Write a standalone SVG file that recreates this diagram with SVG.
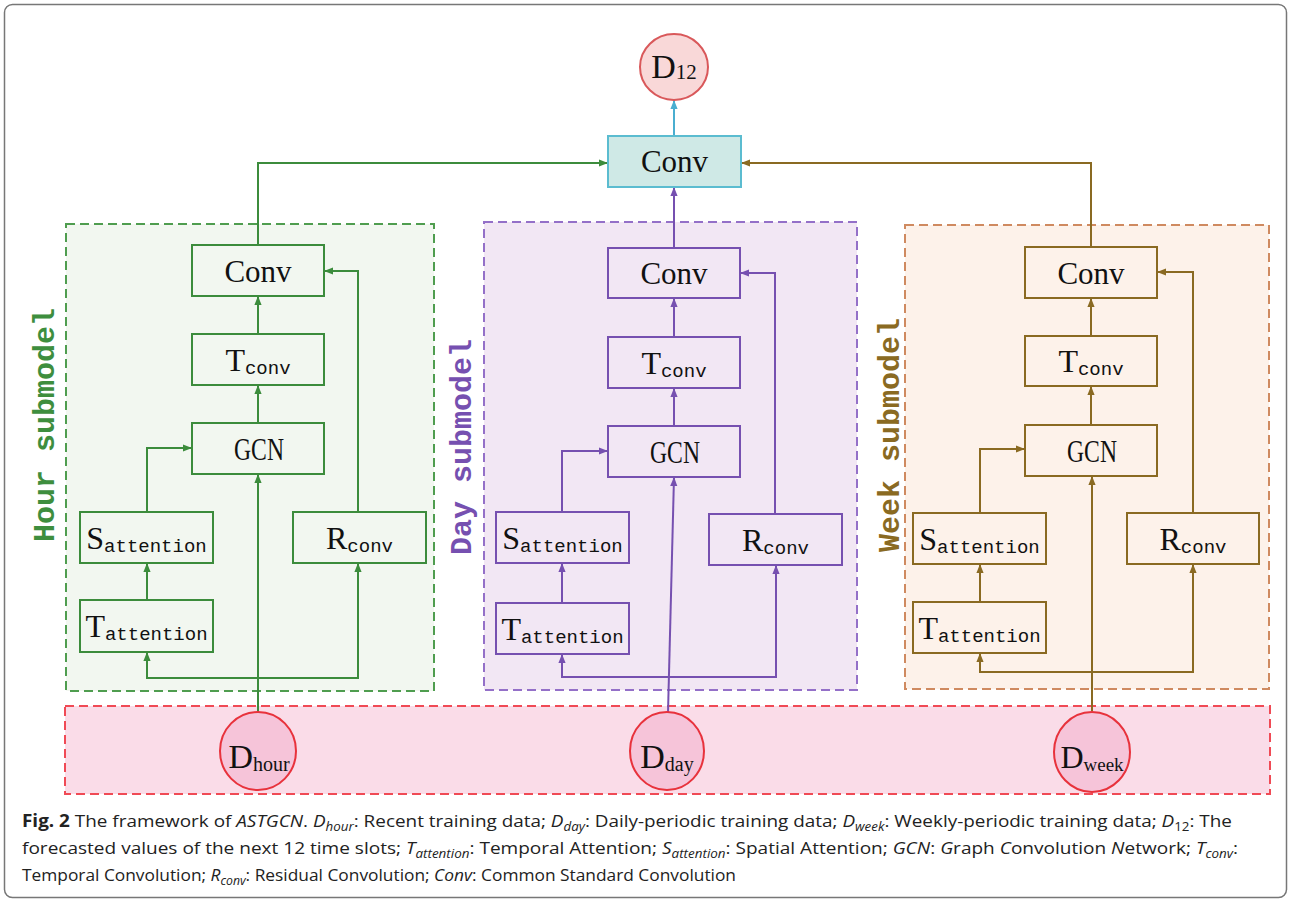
<svg xmlns="http://www.w3.org/2000/svg" width="1291" height="902" viewBox="0 0 1291 902">
<style>
.serif{font-family:"Liberation Serif","Times New Roman",serif;fill:#111}
.mono{font-family:"Liberation Mono","Courier New",monospace;fill:#111}
.lab{font-family:"Liberation Mono","Courier New",monospace;font-size:30px;font-weight:bold}
.cap{font-family:"Open Sans","Noto Sans","Liberation Sans",sans-serif;font-size:17px;fill:#222}
.g{stroke:#3c8c3c}
.p{stroke:#7650b0}
.b{stroke:#8a6a22}
.conn path{fill:none;stroke-width:2}
.node rect{stroke-width:2}
</style>
<defs>
<marker id="ag" viewBox="0 0 10 10" refX="10" refY="5" markerWidth="9" markerHeight="9" markerUnits="userSpaceOnUse" orient="auto"><path d="M0,1 L10,5 L0,9 z" fill="#3c8c3c"/></marker>
<marker id="ap" viewBox="0 0 10 10" refX="10" refY="5" markerWidth="9" markerHeight="9" markerUnits="userSpaceOnUse" orient="auto"><path d="M0,1 L10,5 L0,9 z" fill="#7650b0"/></marker>
<marker id="ab" viewBox="0 0 10 10" refX="10" refY="5" markerWidth="9" markerHeight="9" markerUnits="userSpaceOnUse" orient="auto"><path d="M0,1 L10,5 L0,9 z" fill="#8a6a22"/></marker>
<marker id="at" viewBox="0 0 10 10" refX="10" refY="5" markerWidth="9" markerHeight="9" markerUnits="userSpaceOnUse" orient="auto"><path d="M0,1 L10,5 L0,9 z" fill="#4aaed0"/></marker>
</defs>
<rect x="0" y="0" width="1291" height="902" fill="#fff"/>
<rect x="4.5" y="4.5" width="1282" height="893" rx="8" fill="#fff" stroke="#777" stroke-width="1.5"/>

<!-- containers -->
<g id="hour-submodel">
<rect x="66" y="224" width="368" height="467" fill="#f2f7f0" stroke="#4f9d4f" stroke-width="2" stroke-dasharray="9,5"/>
<text class="lab" transform="translate(54,425) rotate(-90)" text-anchor="middle" fill="#3e8e3e">Hour submodel</text>
</g>
<g id="day-submodel">
<rect x="484" y="222" width="373" height="468" fill="#f2e7f4" stroke="#9470c8" stroke-width="2" stroke-dasharray="9,5"/>
<text class="lab" transform="translate(471,447) rotate(-90)" text-anchor="middle" fill="#7650b0">Day submodel</text>
</g>
<g id="week-submodel">
<rect x="905" y="225" width="364" height="464" fill="#fdf2ea" stroke="#cf8a60" stroke-width="2" stroke-dasharray="9,5"/>
<text class="lab" transform="translate(899,435) rotate(-90)" text-anchor="middle" fill="#8a6a22">Week submodel</text>
</g>
<g id="input-band">
<rect x="65" y="706" width="1205" height="88" fill="#fadce8" stroke="#f04a55" stroke-width="2" stroke-dasharray="9,5"/>
</g>

<!-- connectors -->
<g id="connectors" class="conn">
<path d="M674,136 V100" stroke="#4aaed0" marker-end="url(#at)"/>
<!-- hour -->
<path class="g" d="M258,713 V474" marker-end="url(#ag)"/>
<path class="g" d="M258,678 H147 V652" marker-end="url(#ag)"/>
<path class="g" d="M258,678 H358 V563" marker-end="url(#ag)"/>
<path class="g" d="M147,600 V563" marker-end="url(#ag)"/>
<path class="g" d="M147,512 V448 H192" marker-end="url(#ag)"/>
<path class="g" d="M358,512 V271 H324" marker-end="url(#ag)"/>
<path class="g" d="M258,423 V385" marker-end="url(#ag)"/>
<path class="g" d="M258,334 V296" marker-end="url(#ag)"/>
<path class="g" d="M258,245 V163 H608" marker-end="url(#ag)"/>
<!-- day -->
<path class="p" d="M668,713 L674,477" marker-end="url(#ap)"/>
<path class="p" d="M670,677 H562 V654" marker-end="url(#ap)"/>
<path class="p" d="M670,677 H776 V565" marker-end="url(#ap)"/>
<path class="p" d="M562,603 V563" marker-end="url(#ap)"/>
<path class="p" d="M562,512 V451 H608" marker-end="url(#ap)"/>
<path class="p" d="M775,514 V273 H740" marker-end="url(#ap)"/>
<path class="p" d="M674,426 V388" marker-end="url(#ap)"/>
<path class="p" d="M674,337 V298" marker-end="url(#ap)"/>
<path class="p" d="M674,248 V187" marker-end="url(#ap)"/>
<!-- week -->
<path class="b" d="M1092,711 V476" marker-end="url(#ab)"/>
<path class="b" d="M1092,672 H980 V653" marker-end="url(#ab)"/>
<path class="b" d="M1092,672 H1193 V564" marker-end="url(#ab)"/>
<path class="b" d="M980,602 V564" marker-end="url(#ab)"/>
<path class="b" d="M980,513 V449 H1025" marker-end="url(#ab)"/>
<path class="b" d="M1193,513 V272 H1157" marker-end="url(#ab)"/>
<path class="b" d="M1091,425 V386" marker-end="url(#ab)"/>
<path class="b" d="M1091,336 V298" marker-end="url(#ab)"/>
<path class="b" d="M1091,247 V163 H741" marker-end="url(#ab)"/>
</g>

<!-- output nodes -->
<g id="d12" class="node">
<ellipse cx="674" cy="67" rx="34" ry="33" fill="#f9d8d8" stroke="#d9585a" stroke-width="2"/>
<text class="serif" x="674" y="78" text-anchor="middle"><tspan font-size="34">D</tspan><tspan font-size="21" dy="1">12</tspan></text>
</g>
<g id="conv-top" class="node">
<rect x="608" y="136" width="133" height="51" fill="#cfe9e6" stroke="#5bbcd0" stroke-width="2.5"/>
<text class="serif" x="674.5" y="172" font-size="31" text-anchor="middle">Conv</text>
</g>

<!-- hour nodes -->
<g id="hour-conv" class="node"><rect class="g" x="192" y="245" width="132" height="51" fill="#f2f7f0"/><text class="serif" x="258" y="282" font-size="31" text-anchor="middle">Conv</text></g>
<g id="hour-tconv" class="node"><rect class="g" x="192" y="334" width="132" height="51" fill="#f2f7f0"/><text x="258" y="371" text-anchor="middle"><tspan class="serif" font-size="32">T</tspan><tspan class="mono" font-size="19" dy="3">conv</tspan></text></g>
<g id="hour-gcn" class="node"><rect class="g" x="192" y="423" width="132" height="51" fill="#f2f7f0"/><text class="serif" x="234" y="460" font-size="31" textLength="50" lengthAdjust="spacingAndGlyphs">GCN</text></g>
<g id="hour-satt" class="node"><rect class="g" x="80" y="512" width="133" height="51" fill="#f2f7f0"/><text x="146.5" y="549" text-anchor="middle"><tspan class="serif" font-size="32">S</tspan><tspan class="mono" font-size="19" dy="3">attention</tspan></text></g>
<g id="hour-rconv" class="node"><rect class="g" x="293" y="512" width="133" height="51" fill="#f2f7f0"/><text x="359.5" y="549" text-anchor="middle"><tspan class="serif" font-size="32">R</tspan><tspan class="mono" font-size="19" dy="3">conv</tspan></text></g>
<g id="hour-tatt" class="node"><rect class="g" x="80" y="600" width="133" height="52" fill="#f2f7f0"/><text x="146.5" y="637" text-anchor="middle"><tspan class="serif" font-size="32">T</tspan><tspan class="mono" font-size="19" dy="3">attention</tspan></text></g>

<!-- day nodes -->
<g id="day-conv" class="node"><rect class="p" x="608" y="248" width="132" height="50" fill="#f2e7f4"/><text class="serif" x="674" y="284" font-size="31" text-anchor="middle">Conv</text></g>
<g id="day-tconv" class="node"><rect class="p" x="608" y="337" width="132" height="51" fill="#f2e7f4"/><text x="674" y="374" text-anchor="middle"><tspan class="serif" font-size="32">T</tspan><tspan class="mono" font-size="19" dy="3">conv</tspan></text></g>
<g id="day-gcn" class="node"><rect class="p" x="608" y="426" width="132" height="51" fill="#f2e7f4"/><text class="serif" x="650" y="463" font-size="31" textLength="50" lengthAdjust="spacingAndGlyphs">GCN</text></g>
<g id="day-satt" class="node"><rect class="p" x="496" y="512" width="133" height="51" fill="#f2e7f4"/><text x="562.5" y="549" text-anchor="middle"><tspan class="serif" font-size="32">S</tspan><tspan class="mono" font-size="19" dy="3">attention</tspan></text></g>
<g id="day-rconv" class="node"><rect class="p" x="709" y="514" width="133" height="51" fill="#f2e7f4"/><text x="775.5" y="551" text-anchor="middle"><tspan class="serif" font-size="32">R</tspan><tspan class="mono" font-size="19" dy="3">conv</tspan></text></g>
<g id="day-tatt" class="node"><rect class="p" x="496" y="603" width="133" height="51" fill="#f2e7f4"/><text x="562.5" y="640" text-anchor="middle"><tspan class="serif" font-size="32">T</tspan><tspan class="mono" font-size="19" dy="3">attention</tspan></text></g>

<!-- week nodes -->
<g id="week-conv" class="node"><rect class="b" x="1025" y="247" width="132" height="51" fill="#fdf2ea"/><text class="serif" x="1091" y="284" font-size="31" text-anchor="middle">Conv</text></g>
<g id="week-tconv" class="node"><rect class="b" x="1025" y="336" width="132" height="50" fill="#fdf2ea"/><text x="1091" y="372" text-anchor="middle"><tspan class="serif" font-size="32">T</tspan><tspan class="mono" font-size="19" dy="3">conv</tspan></text></g>
<g id="week-gcn" class="node"><rect class="b" x="1025" y="425" width="132" height="51" fill="#fdf2ea"/><text class="serif" x="1067" y="462" font-size="31" textLength="50" lengthAdjust="spacingAndGlyphs">GCN</text></g>
<g id="week-satt" class="node"><rect class="b" x="913" y="513" width="133" height="51" fill="#fdf2ea"/><text x="979.5" y="550" text-anchor="middle"><tspan class="serif" font-size="32">S</tspan><tspan class="mono" font-size="19" dy="3">attention</tspan></text></g>
<g id="week-rconv" class="node"><rect class="b" x="1127" y="513" width="132" height="51" fill="#fdf2ea"/><text x="1193" y="550" text-anchor="middle"><tspan class="serif" font-size="32">R</tspan><tspan class="mono" font-size="19" dy="3">conv</tspan></text></g>
<g id="week-tatt" class="node"><rect class="b" x="913" y="602" width="133" height="51" fill="#fdf2ea"/><text x="979.5" y="639" text-anchor="middle"><tspan class="serif" font-size="32">T</tspan><tspan class="mono" font-size="19" dy="3">attention</tspan></text></g>

<!-- input nodes -->
<g id="d-hour" class="node">
<ellipse cx="258" cy="751" rx="38" ry="39" fill="#f6c4d9" stroke="#e8323c" stroke-width="2"/>
<text class="serif" x="259" y="768" text-anchor="middle"><tspan font-size="34">D</tspan><tspan font-size="20" dy="3">hour</tspan></text>
</g>
<g id="d-day" class="node">
<ellipse cx="667" cy="751" rx="37" ry="39" fill="#f6c4d9" stroke="#e8323c" stroke-width="2"/>
<text class="serif" x="667" y="768" text-anchor="middle"><tspan font-size="34">D</tspan><tspan font-size="20" dy="3">day</tspan></text>
</g>
<g id="d-week" class="node">
<ellipse cx="1092" cy="752" rx="38" ry="40" fill="#f6c4d9" stroke="#e8323c" stroke-width="2"/>
<text class="serif" x="1092" y="768" text-anchor="middle"><tspan font-size="32">D</tspan><tspan font-size="19" dy="3">week</tspan></text>
</g>

<!-- caption -->
<g id="caption">
<text class="cap" x="22" y="827" textLength="1210" lengthAdjust="spacingAndGlyphs"><tspan font-weight="bold">Fig. 2</tspan> The framework of <tspan font-style="italic">ASTGCN</tspan>. <tspan font-style="italic">D</tspan><tspan font-style="italic" font-size="12" dy="4">hour</tspan><tspan dy="-4">: Recent training data; </tspan><tspan font-style="italic">D</tspan><tspan font-style="italic" font-size="12" dy="4">day</tspan><tspan dy="-4">: Daily-periodic training data; </tspan><tspan font-style="italic">D</tspan><tspan font-style="italic" font-size="12" dy="4">week</tspan><tspan dy="-4">: Weekly-periodic training data; </tspan><tspan font-style="italic">D</tspan><tspan font-size="12" dy="4">12</tspan><tspan dy="-4">: The</tspan></text>
<text class="cap" x="22" y="854" textLength="1216" lengthAdjust="spacingAndGlyphs">forecasted values of the next 12 time slots; <tspan font-style="italic">T</tspan><tspan font-style="italic" font-size="12" dy="4">attention</tspan><tspan dy="-4">: Temporal Attention; </tspan><tspan font-style="italic">S</tspan><tspan font-style="italic" font-size="12" dy="4">attention</tspan><tspan dy="-4">: Spatial Attention; </tspan><tspan font-style="italic">GCN</tspan>: <tspan font-style="italic">G</tspan>raph <tspan font-style="italic">C</tspan>onvolution <tspan font-style="italic">N</tspan>etwork; <tspan font-style="italic">T</tspan><tspan font-style="italic" font-size="12" dy="4">conv</tspan><tspan dy="-4">:</tspan></text>
<text class="cap" x="22" y="881" textLength="714" lengthAdjust="spacingAndGlyphs">Temporal Convolution; <tspan font-style="italic">R</tspan><tspan font-style="italic" font-size="12" dy="4">conv</tspan><tspan dy="-4">: Residual Convolution; </tspan><tspan font-style="italic">Conv</tspan>: Common Standard Convolution</text>
</g>
</svg>
